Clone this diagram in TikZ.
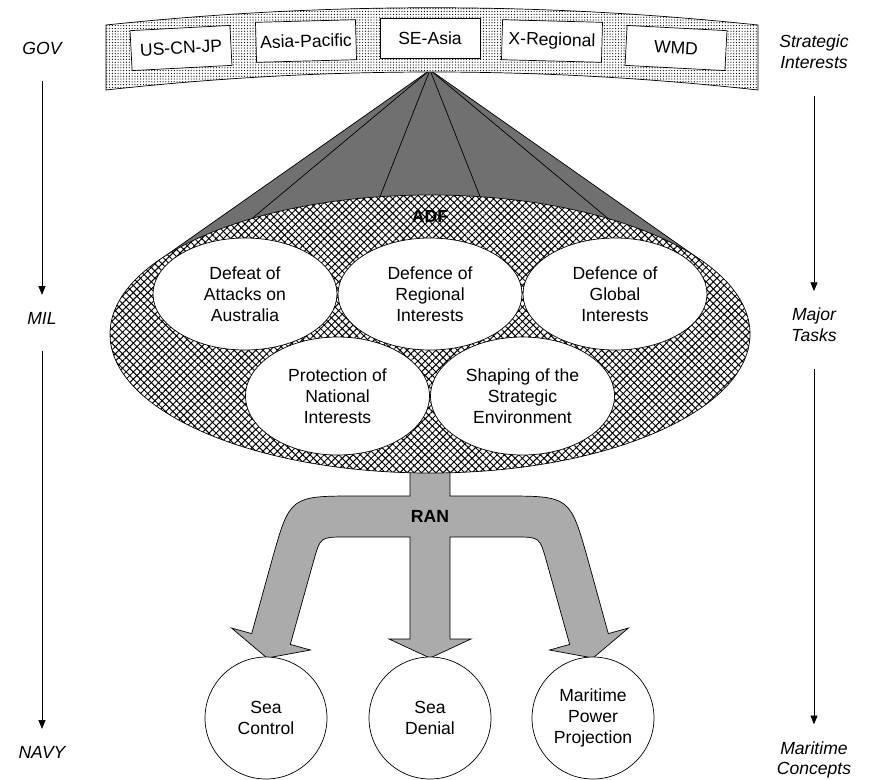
\documentclass[tikz,border=0pt]{standalone}
\usepackage{fontspec}
\setmainfont{Liberation Sans}
\usetikzlibrary{shapes.geometric,arrows.meta,patterns.meta}

\tikzset{
  lbl/.style={font=\fontsize{10}{11.8}\selectfont, align=center, inner sep=1pt},
  sidelbl/.style={lbl, font=\fontsize{10}{11.8}\selectfont\itshape},
  boldlbl/.style={lbl, font=\fontsize{10}{11.8}\selectfont\bfseries},
  region/.style={lbl, draw, fill=white, minimum width=2cm, minimum height=0.8cm, inner sep=0pt},
  task/.style={lbl, draw, fill=white, ellipse, minimum width=3.68cm, minimum height=2.24cm, inner sep=0pt},
  lowtask/.style={task, minimum height=2.36cm},
  concept/.style={lbl, draw, fill=white, circle, minimum size=2.44cm, inner sep=0pt},
  flow/.style={-{Triangle[length=5pt,width=4pt]}, shorten <=0.5cm, shorten >=0.3cm},
}

\begin{document}
\begin{tikzpicture}[x=0.02cm, y=-0.02cm]
\useasboundingbox (0,0) rectangle (869,779);

\coordinate (apex) at (430,70);
\fill[black!56] (apex) -- (158,261) -- (702,261) -- cycle;
\draw (apex) -- (158,261);
\draw (apex) -- (702,261);
\foreach \a in {123.8,99,81,56.2}
  \draw (apex) -- ({430+320*cos(\a)},{334-139*sin(\a)});

\path[draw, preaction={fill=white}, pattern={Dots[distance=1.6pt,radius=0.35pt]}]
  (106,25) .. controls (323,2) and (541,2) .. (758,25) -- (758,90)
  .. controls (541,66) and (323,66) .. (106,90) -- cycle;

\node[region, rotate=3] (uscnjp) at (181,48) {US-CN-JP};
\node[region, rotate=1.5] (asiapac) at (306,41) {Asia-Pacific};
\node[region] (seasia) at (430,38) {SE-Asia};
\node[region, rotate=-1.5] (xreg) at (552,41) {X-Regional};
\node[region, rotate=-3] (wmd) at (676,48) {WMD};

\path[draw, fill=black!33]
  (410,465) -- (410,496) -- (357,496) .. controls (290,496) .. (272,560)
  -- (251.7,633.6) -- (231.5,628) -- (267,658) -- (310.5,650) -- (290.3,644.4)
  -- (313.6,561) .. controls (320.4,537) .. (345,537) -- (410,537)
  -- (410,639) -- (389,639) -- (430,658) -- (471,639) -- (450,639) -- (450,537)
  -- (515,537) .. controls (539.6,537) .. (546.4,561)
  -- (569.7,644.4) -- (549.5,650) -- (593,658) -- (628.5,628) -- (608.3,633.6)
  -- (588,560) .. controls (570,496) .. (503,496) -- (450,496) -- (450,465) -- cycle;

\path[draw, preaction={fill=white}, pattern={Hatch[angle=45,distance=2.9pt,line width=0.55pt]}]
  (430,334) ellipse (320 and 139);

\node[boldlbl] (adf) at (430,216) {ADF};
\node[task] (defeat) at (245,294) {Defeat of\\Attacks on\\Australia};
\node[task] (regional) at (430,294) {Defence of\\Regional\\Interests};
\node[task] (global) at (615,294) {Defence of\\Global\\Interests};
\node[lowtask] (protect) at (337.5,396) {Protection of\\National\\Interests};
\node[lowtask] (shaping) at (522.5,396) {Shaping of the\\Strategic\\Environment};

\node[boldlbl] (ran) at (430,516) {RAN};

\node[concept] (control) at (266,718) {Sea\\Control};
\node[concept] (denial) at (430,718) {Sea\\Denial};
\node[concept] (projection) at (593,718) {Maritime\\Power\\Projection};

\node[sidelbl] (gov) at (42,48) {GOV};
\node[sidelbl] (mil) at (42,318) {MIL};
\node[sidelbl] (navy) at (42,752) {NAVY};
\node[sidelbl] (strat) at (814,52) {Strategic\\Interests};
\node[sidelbl] (tasks) at (814,325) {Major\\Tasks};
\node[sidelbl] (concepts) at (814,760) {Maritime\\Concepts};

\draw[flow] (gov) -- (mil);
\draw[flow] (mil) -- (navy);
\draw[flow] (strat) -- (tasks);
\draw[flow] (tasks) -- (concepts);

\end{tikzpicture}
\end{document}
